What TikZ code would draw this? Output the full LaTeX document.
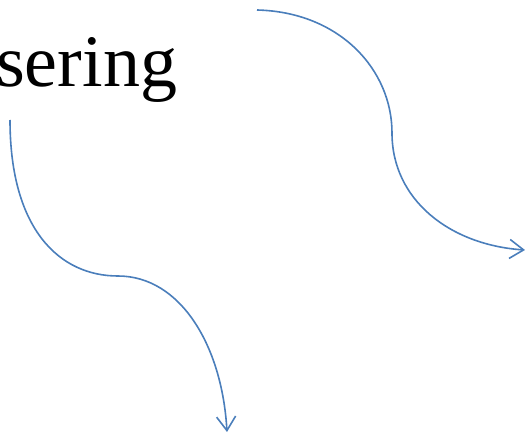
\documentclass[tikz,border=0pt]{standalone}
\usepackage{fontspec}
\setmainfont{Liberation Serif}
\usetikzlibrary{arrows.meta}
\definecolor{linkblue}{HTML}{4A7EBB}
\begin{document}
\begin{tikzpicture}[x=1pt,y=-1pt,
  curvearrow/.style={draw=linkblue,line width=1.6pt,-{Straight Barb[length=14pt,width=19pt,line width=1.6pt]}},
  bigword/.style={font=\fontsize{74}{80}\selectfont,inner sep=0pt,anchor=base west}]
\useasboundingbox (0,0) rectangle (525,433);
\node[bigword] (word) at (-4,87) {sering};
\coordinate (a1) at (10,120);
\coordinate (a2) at (118,276);
\coordinate (a3) at (227,432);
\coordinate (b1) at (257,10);
\coordinate (b2) at (392,133);
\coordinate (b3) at (525,250);
\draw[curvearrow] (a1) .. controls (10,230) and (60,276) .. (a2)
  .. controls (180,276) and (222,345) .. (a3);
\draw[curvearrow] (b1) .. controls (340,12) and (392,70) .. (b2)
  .. controls (392,200) and (450,245) .. (b3);
\end{tikzpicture}
\end{document}
